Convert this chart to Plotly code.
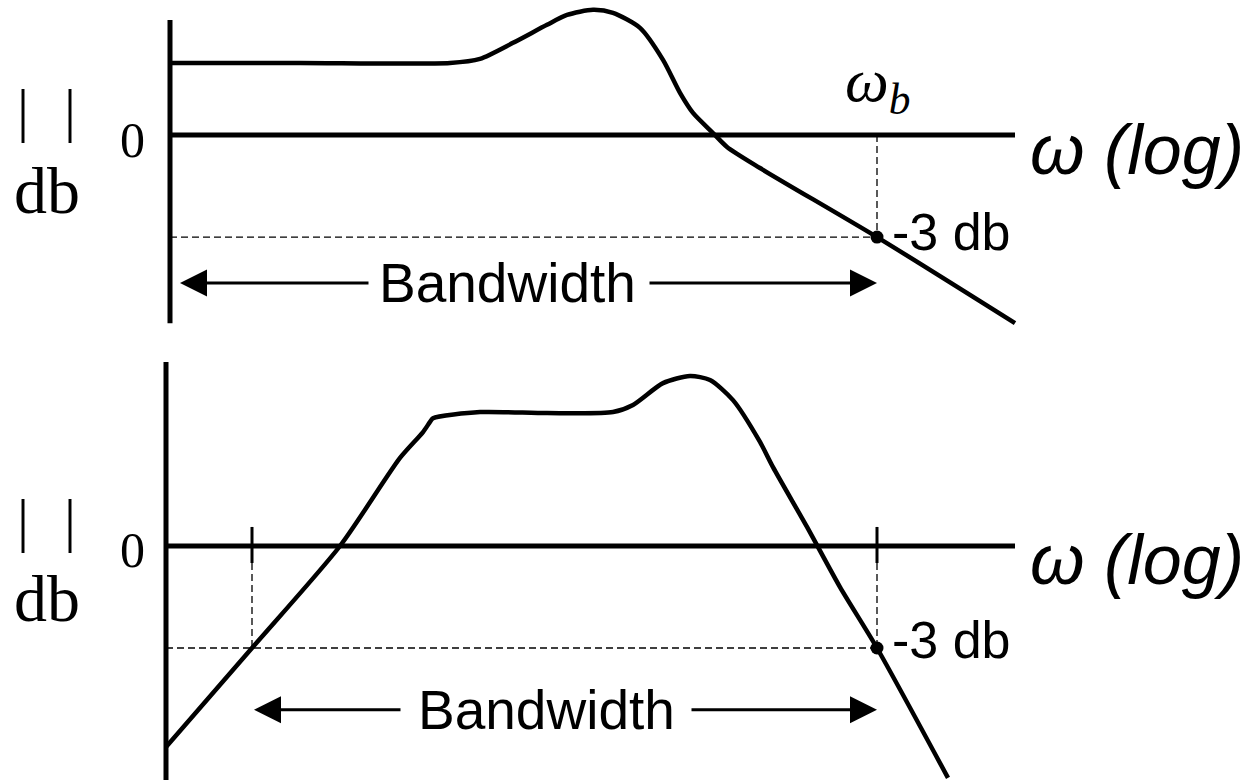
import plotly.graph_objects as go

# ---- data (x: log-frequency position, y: magnitude in dB) ----
top_x = [170, 300, 450, 480, 513, 547, 567, 593, 613, 640, 663, 680, 693, 713, 727, 760, 877, 1015]
top_db = [2.12, 2.12, 2.12, 2.24, 2.71, 3.24, 3.53, 3.68, 3.59, 3.15, 2.21, 1.24, 0.65, 0.06, -0.35, -0.97, -3.0, -5.53]

bot_x = [166, 252, 340, 400, 423, 430, 433, 480, 547, 613, 633, 663, 690, 710, 733, 760, 773, 807, 840, 877, 948]
bot_db = [-5.91, -3.0, 0.0, 2.59, 3.35, 3.65, 3.76, 3.94, 3.91, 3.94, 4.15, 4.79, 5.0, 4.88, 4.29, 3.06, 2.32, 0.56, -1.21, -3.0, -6.82]

top_axis_x = 170
bot_axis_x = 166
axis_end_x = 1015
top_axis_db = [3.38, -5.53]
bot_axis_db = [5.41, -6.88]
cut_db = -3.0
top_wb = 877
bot_w1 = 252
bot_w2 = 877
tick_db = [0.56, -0.5]
top_bw_db = -4.35
bot_bw_db = -4.82
top_bw_segments = [[370, 180], [648, 877]]
bot_bw_segments = [[402, 254], [690, 877]]

BLACK = "black"
fig = go.Figure()

def line(x, y, yaxis, width=5, dash=None, shape="linear"):
    fig.add_trace(go.Scatter(x=x, y=y, yaxis=yaxis, mode="lines",
                             line=dict(color=BLACK, width=width, dash=dash, shape=shape,
                                       smoothing=0.7 if shape == "spline" else None),
                             hoverinfo="skip", showlegend=False, cliponaxis=False))

DASH = "7px,4px"
# ---- top panel ----
line([top_axis_x, top_axis_x], top_axis_db, "y")
line([top_axis_x, axis_end_x], [0, 0], "y")
line([top_axis_x, top_wb], [cut_db, cut_db], "y", width=1.3, dash=DASH)
line([top_wb, top_wb], [0, cut_db], "y", width=1.3, dash=DASH)
line(top_x, top_db, "y", width=4.5, shape="spline")
fig.add_trace(go.Scatter(x=[top_wb], y=[cut_db], yaxis="y", mode="markers",
                         marker=dict(color=BLACK, size=13), showlegend=False, hoverinfo="skip"))

# ---- bottom panel ----
line([bot_axis_x, bot_axis_x], bot_axis_db, "y2")
line([bot_axis_x, axis_end_x], [0, 0], "y2")
line([bot_axis_x, bot_w2], [cut_db, cut_db], "y2", width=1.3, dash=DASH)
for w in (bot_w1, bot_w2):
    line([w, w], [tick_db[1], cut_db], "y2", width=1.3, dash=DASH)
    line([w, w], tick_db, "y2", width=3)
line(bot_x, bot_db, "y2", width=4.5, shape="spline")
fig.add_trace(go.Scatter(x=[bot_w2], y=[cut_db], yaxis="y2", mode="markers",
                         marker=dict(color=BLACK, size=13), showlegend=False, hoverinfo="skip"))

ann = []
def arrow(seg, db, yref):
    ann.append(dict(x=seg[1], y=db, ax=seg[0], ay=db, xref="x", yref=yref, axref="x", ayref=yref,
                    text="", showarrow=True, arrowhead=2, arrowwidth=3, arrowsize=1.8,
                    arrowcolor=BLACK))

for s in top_bw_segments:
    arrow(s, top_bw_db, "y")
for s in bot_bw_segments:
    arrow(s, bot_bw_db, "y2")

SERIF = "Liberation Serif"
SANS = "Liberation Sans"
def txt(t, x, y, yref, size, family, xanchor="center"):
    ann.append(dict(text=t, x=x, y=y, xref="x", yref=yref, showarrow=False,
                    font=dict(family=family, size=size, color=BLACK),
                    xanchor=xanchor, yanchor="middle"))

for yref, bars_db, db_db, zero_db, log_db, m3_db, bw_db, bw_x in [
    ("y", 0.74, -1.62, -0.15, -0.44, -2.85, top_bw_db, 507),
    ("y2", 0.76, -1.53, -0.12, -0.41, -2.76, bot_bw_db, 546),
]:
    txt("|&nbsp;&nbsp;&#8202;|", 46, bars_db, yref, 60, SERIF)
    txt("db", 47, db_db, yref, 66, SERIF)
    txt("0", 132, zero_db, yref, 50, SERIF)
    txt("<i>ω (log)</i>", 1028, log_db, yref, 70, SANS, xanchor="left")
    txt("-3 db", 890, m3_db, yref, 52, SANS, xanchor="left")
    txt("Bandwidth", bw_x, bw_db, yref, 55, SANS)

txt("<i>ω<sub>b</sub></i>", 877, 1.5, "y", 62, SERIF)

fig.update_layout(
    width=1249, height=781, margin=dict(l=0, r=0, t=0, b=0),
    paper_bgcolor="white", plot_bgcolor="white",
    xaxis=dict(range=[0, 1249], visible=False, fixedrange=True),
    yaxis=dict(domain=[0.5, 1], range=[-7.51, 3.97], visible=False, anchor="x"),
    yaxis2=dict(domain=[0, 0.56], range=[-6.912, 5.952], visible=False, anchor="x"),
    annotations=ann, showlegend=False,
)
fig.write_html("out.html", config={"displayModeBar": False},
               post_script="document.body.style.margin='0';document.body.style.overflow='hidden';")
